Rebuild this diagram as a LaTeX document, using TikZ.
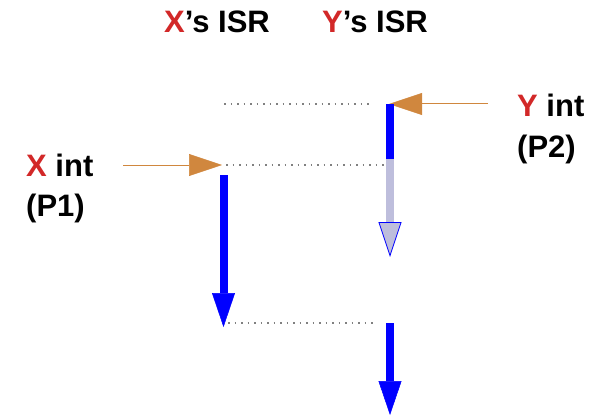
\documentclass[tikz,border=0pt]{standalone}
\usepackage{fontspec}
\setmainfont{Liberation Sans}
\usetikzlibrary{positioning, arrows.meta}
\definecolor{intred}{RGB}{210,40,40}
\definecolor{intorange}{RGB}{208,135,62}
\definecolor{waitgrey}{RGB}{190,190,220}

\begin{document}
\begin{tikzpicture}[x=1pt, y=-1pt,
    txt/.style={font=\fontsize{31}{40}\selectfont\bfseries, inner sep=0pt},
    irq/.style={intorange, line width=1pt, -{Triangle[width=22pt, length=33pt, line width=0.5pt]}},
    dots/.style={gray, line width=1.5pt, dash pattern=on 1.5pt off 5pt},
    run/.style={blue, line width=8pt, -{Triangle[width=23pt, length=34pt, line width=0.5pt]}},
    waiting/.style={waitgrey, line width=8pt, -{Triangle[width=23pt, length=35pt, fill=waitgrey, color=blue, line width=0.8pt]}}]
            \useasboundingbox (0,0) rectangle (604,417);

            \node [txt] (xisr) at (217,22) {\textcolor{intred}{X}'s ISR};
            \node [txt] (yisr) at (375,22) {\textcolor{intred}{Y}'s ISR};

            \node [txt, anchor=base west] (xint) at (26,176) {\textcolor{intred}{X} int};
            \node [txt, anchor=base west] (pone) at ([yshift=-40pt]xint.base west) {(P1)};
            \node [txt, anchor=base west] (yint) at (517,117) {\textcolor{intred}{Y} int};
            \node [txt, anchor=base west] (ptwo) at ([yshift=-40pt]yint.base west) {(P2)};

            % interrupt lines
            \coordinate (xsrc) at (123,165);
            \coordinate (xhit) at (222,165);
            \coordinate (ysrc) at (488,104);
            \coordinate (yhit) at (389,104);

            \draw [irq] (xsrc) -- (xhit);
            \draw [irq] (ysrc) -- (yhit);

            % time marks
            \coordinate (topl) at (224,104);
            \coordinate (topr) at (372,104);
            \coordinate (midl) at (226,165);
            \coordinate (midr) at (385,165);
            \coordinate (lowl) at (228,323);
            \coordinate (lowr) at (376,323);

            \draw [dots] (topl) -- (topr);
            \draw [dots] (midl) -- (midr);
            \draw [dots] (lowl) -- (lowr);

            % ISR execution
            \coordinate (xbeg) at (223.5,175);
            \coordinate (xend) at (223.5,327);
            \coordinate (ybeg) at (390,104);
            \coordinate (ystop) at (390,159);
            \coordinate (yrest) at (390,257);
            \coordinate (yback) at (390,323);
            \coordinate (yend) at (390,415);

            \draw [run] (xbeg) -- (xend);
            \draw [blue, line width=8pt] (ybeg) -- (ystop);
            \draw [waiting] (ystop) -- (yrest);
            \draw [run] (yback) -- (yend);
          \end{tikzpicture}
\end{document}
